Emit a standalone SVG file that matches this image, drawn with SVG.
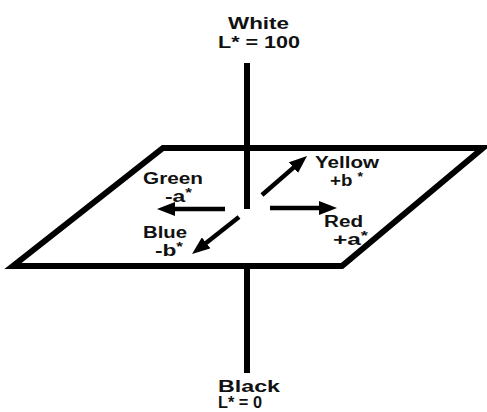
<svg xmlns="http://www.w3.org/2000/svg" width="487" height="412" viewBox="0 0 487 412">
<style>
.t{font-family:"Liberation Sans",Arial,sans-serif;font-weight:bold;font-size:16px;fill:#111}
.s{font-size:12px}
.ax{stroke:#000;stroke-width:6;fill:none}
.ar{stroke:#000;stroke-width:4.5;fill:none;marker-end:url(#ah)}
</style>
<defs>
<marker id="ah" markerUnits="userSpaceOnUse" markerWidth="18" markerHeight="14" refX="7" refY="7" orient="auto">
<path d="M0,0 L18,7 L0,14 z" fill="#000"/>
</marker>
</defs>
<rect width="487" height="412" fill="#fff"/>
<g id="plane">
<polygon class="ax" points="163,148 483,148 342,266 13,266"/>
</g>
<g id="connectors">
<line class="ax" x1="247" y1="63" x2="247" y2="209"/>
<line class="ax" x1="247" y1="267" x2="247" y2="373"/>
<line class="ar" x1="225" y1="209" x2="168" y2="209"/>
<line class="ar" x1="270" y1="208" x2="326" y2="208"/>
<line class="ar" x1="262" y1="195" x2="298.7" y2="163.1"/>
<line class="ar" x1="239" y1="217" x2="200.7" y2="247.2"/>
</g>
<g id="white">
<text class="t" x="228" y="29" textLength="61" lengthAdjust="spacingAndGlyphs">White</text>
<text class="t" x="218" y="48" textLength="82" lengthAdjust="spacingAndGlyphs">L* = 100</text>
</g>
<g id="black">
<text class="t" x="218" y="392" textLength="62" lengthAdjust="spacingAndGlyphs">Black</text>
<text class="t" x="218" y="408" textLength="44" lengthAdjust="spacingAndGlyphs">L* = 0</text>
</g>
<g id="green">
<text class="t" x="143" y="184" textLength="60" lengthAdjust="spacingAndGlyphs">Green</text>
<text class="t" x="165" y="202" textLength="27" lengthAdjust="spacingAndGlyphs">-a<tspan class="s" dy="-5">*</tspan></text>
</g>
<g id="blue">
<text class="t" x="143" y="238" textLength="44" lengthAdjust="spacingAndGlyphs">Blue</text>
<text class="t" x="155" y="256" textLength="28" lengthAdjust="spacingAndGlyphs">-b<tspan class="s" dy="-5">*</tspan></text>
</g>
<g id="yellow">
<text class="t" x="315" y="168" textLength="64" lengthAdjust="spacingAndGlyphs">Yellow</text>
<text class="t" x="330" y="186" textLength="33" lengthAdjust="spacingAndGlyphs">+b <tspan class="s" dy="-5">*</tspan></text>
</g>
<g id="red">
<text class="t" x="324" y="227" textLength="39" lengthAdjust="spacingAndGlyphs">Red</text>
<text class="t" x="333" y="245" textLength="35" lengthAdjust="spacingAndGlyphs">+a<tspan class="s" dy="-5">*</tspan></text>
</g>
</svg>
